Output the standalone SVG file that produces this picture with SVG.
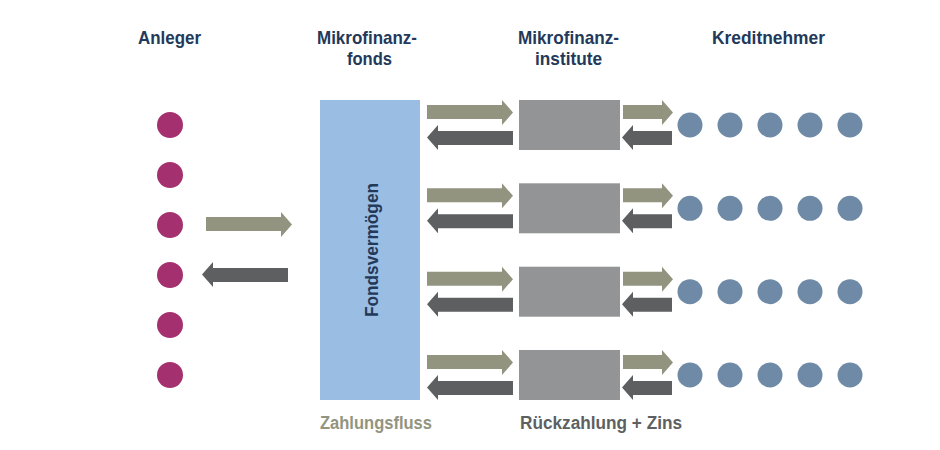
<svg xmlns="http://www.w3.org/2000/svg" width="940" height="450" viewBox="0 0 940 450">
<defs>
<style>
.hd{font-family:"Liberation Sans",Arial,sans-serif;font-weight:bold;font-size:19px;fill:#23395a}
.lbl{font-family:"Liberation Sans",Arial,sans-serif;font-weight:bold;font-size:18px}
.inv{fill:#a4306f}
.bor{fill:#6e8aa6}
.fwd{fill:#929480}
.back{fill:#5e5f61}
.mfi{fill:#939496}
</style>
<path id="ra" d="M0,-6 L0,-20 L75,-20 L75,-25 L86,-12.5 L75,0 L75,-6 Z"/>
<path id="la" d="M86,6 L86,20 L11,20 L11,25 L0,12.5 L11,0 L11,6 Z"/>
<path id="sra" d="M0,-6 L0,-20 L39,-20 L39,-25 L50,-12.5 L39,0 L39,-6 Z"/>
<path id="sla" d="M50,6 L50,20 L11,20 L11,25 L0,12.5 L11,0 L11,6 Z"/>
<g id="brow">
<circle cx="690" cy="0" r="12.5"/>
<circle cx="730" cy="0" r="12.5"/>
<circle cx="770" cy="0" r="12.5"/>
<circle cx="810" cy="0" r="12.5"/>
<circle cx="850" cy="0" r="12.5"/>
</g>
</defs>
<rect width="940" height="450" fill="#ffffff"/>

<g id="headers">
<text class="hd" x="138" y="44" textLength="63" lengthAdjust="spacingAndGlyphs">Anleger</text>
<text class="hd" x="317" y="44" textLength="100" lengthAdjust="spacingAndGlyphs">Mikrofinanz-</text>
<text class="hd" x="347" y="65" textLength="45" lengthAdjust="spacingAndGlyphs">fonds</text>
<text class="hd" x="518" y="44" textLength="101" lengthAdjust="spacingAndGlyphs">Mikrofinanz-</text>
<text class="hd" x="535" y="65" textLength="67" lengthAdjust="spacingAndGlyphs">institute</text>
<text class="hd" x="712" y="44" textLength="113" lengthAdjust="spacingAndGlyphs">Kreditnehmer</text>
</g>

<g id="investors" class="inv">
<circle cx="170" cy="125" r="13"/>
<circle cx="170" cy="175" r="13"/>
<circle cx="170" cy="225" r="13"/>
<circle cx="170" cy="275" r="13"/>
<circle cx="170" cy="325" r="13"/>
<circle cx="170" cy="375" r="13"/>
</g>

<g id="fund">
<rect x="320" y="100" width="100" height="300" fill="#9abde3"/>
<text class="hd" transform="translate(378,317) rotate(-90)" x="0" y="0" textLength="134" lengthAdjust="spacingAndGlyphs">Fondsvermögen</text>
</g>

<g id="mfi1"><rect class="mfi" x="519" y="100" width="101" height="50"/></g>
<g id="mfi2"><rect class="mfi" x="519" y="183.3" width="101" height="50"/></g>
<g id="mfi3"><rect class="mfi" x="519" y="266.7" width="101" height="50"/></g>
<g id="mfi4"><rect class="mfi" x="519" y="350" width="101" height="50"/></g>

<g id="borrowers" class="bor">
<use href="#brow" y="125"/>
<use href="#brow" y="208.3"/>
<use href="#brow" y="291.7"/>
<use href="#brow" y="375"/>
</g>

<g id="connectors">
<use href="#ra" class="fwd" transform="translate(206,237)"/>
<use href="#la" class="back" transform="translate(202,262)"/>

<use href="#ra" class="fwd" transform="translate(427,125)"/>
<use href="#la" class="back" transform="translate(427,125)"/>
<use href="#ra" class="fwd" transform="translate(427,208.3)"/>
<use href="#la" class="back" transform="translate(427,208.3)"/>
<use href="#ra" class="fwd" transform="translate(427,291.7)"/>
<use href="#la" class="back" transform="translate(427,291.7)"/>
<use href="#ra" class="fwd" transform="translate(427,375)"/>
<use href="#la" class="back" transform="translate(427,375)"/>

<use href="#sra" class="fwd" transform="translate(623,125)"/>
<use href="#sla" class="back" transform="translate(622,125)"/>
<use href="#sra" class="fwd" transform="translate(623,208.3)"/>
<use href="#sla" class="back" transform="translate(622,208.3)"/>
<use href="#sra" class="fwd" transform="translate(623,291.7)"/>
<use href="#sla" class="back" transform="translate(622,291.7)"/>
<use href="#sra" class="fwd" transform="translate(623,375)"/>
<use href="#sla" class="back" transform="translate(622,375)"/>
</g>

<g id="legend">
<text class="lbl" x="320" y="429" fill="#929480" textLength="112" lengthAdjust="spacingAndGlyphs">Zahlungsfluss</text>
<text class="lbl" x="520" y="429" fill="#5e5f61" textLength="162" lengthAdjust="spacingAndGlyphs">Rückzahlung + Zins</text>
</g>
</svg>
